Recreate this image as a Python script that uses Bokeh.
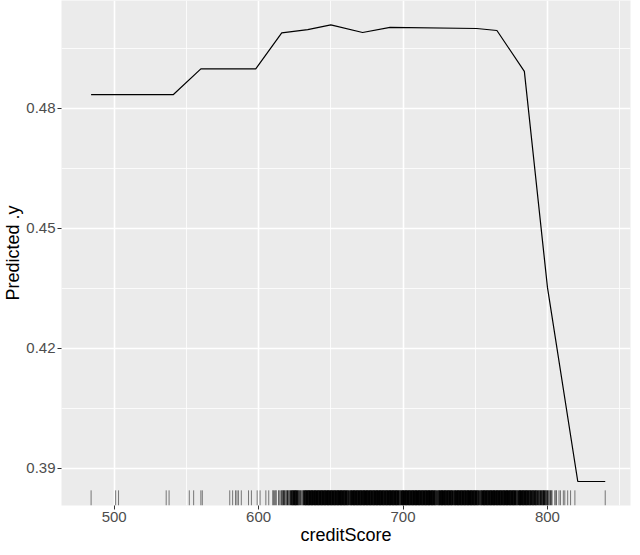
from bokeh.plotting import figure
from bokeh.models import Range1d, FixedTicker, ColumnDataSource, PrintfTickFormatter
from bokeh.embed import file_html
from bokeh.resources import INLINE

# ---- data ----
pd_x = [484, 541, 560, 598, 616, 634, 650, 672, 691, 751, 765, 784, 800, 821, 840]
pd_y = [0.4834, 0.4834, 0.4898, 0.4898, 0.4988, 0.4996, 0.5008, 0.4989, 0.5002,
        0.4999, 0.4994, 0.4892, 0.4352, 0.3867, 0.3867]

rug_values = [
    484, 501, 503, 536, 538, 552, 555, 560, 561, 580, 582, 584, 585, 586, 588,
    593, 595, 599, 601, 605, 607, 610, 611, 612, 614, 615, 616, 617, 618, 619,
    620, 621, 622,
    623, 624, 625, 626, 627, 628, 629, 630, 631, 632, 633, 634, 635, 636, 637,
    638, 639, 640, 641, 642, 643, 644, 645, 646, 647, 648, 649, 650, 651, 652,
    653, 654, 655, 656, 657, 658, 659, 660, 661, 662, 663, 664, 665, 666, 667,
    668, 669, 670, 671, 672, 673, 674, 675, 676, 677, 678, 679, 680, 681, 682,
    683, 684, 685, 686, 687, 688, 689, 690, 691, 692, 693, 694, 695, 696, 697,
    698, 699, 700, 701, 702, 703, 704, 705, 706, 707, 708, 709, 710, 711, 712,
    713, 714, 715, 716, 717, 718, 719, 720, 721, 722, 723, 724, 725, 726, 727,
    728, 729, 730, 731, 732, 733, 734, 735, 736, 737, 738, 739, 740, 741, 742,
    743, 744, 745, 746, 747, 748, 749, 750, 751, 752, 753, 754, 755, 756, 757,
    758, 759, 760, 761, 762, 763, 764, 765, 766, 767, 768, 769, 770, 771, 772,
    773, 774, 775, 776, 777, 778, 779, 780, 781, 782, 783, 784, 785, 786, 787,
    788, 789, 790, 791, 792, 793, 794, 795, 796, 797, 798, 799, 800,
    801, 802, 803, 805, 806, 808, 809, 811, 812, 814, 816, 819, 840,
]
rug_counts = [
    1, 1, 1, 1, 1, 1, 1, 1, 1, 1, 1, 1, 1, 1, 1,
    1, 1, 1, 1, 1, 1, 2, 1, 2, 2, 1, 2, 3, 2, 2,
    3, 2, 3,
    4, 5, 6, 5, 4, 3, 2, 2, 3, 5, 6, 6, 7, 6, 6,
    5, 6, 7, 6, 6, 7, 6, 6, 5, 6, 7, 6, 6, 7, 6,
    6, 5, 6, 7, 6, 6, 5, 6, 6, 4, 3, 5, 6, 7, 6,
    6, 7, 6, 6, 5, 6, 7, 6, 6, 7, 6, 5, 6, 7, 6,
    6, 6, 7, 6, 5, 6, 6, 7, 6, 6, 5, 6, 7, 6, 6,
    3, 6, 7, 6, 6, 7, 6, 5, 6, 7, 6, 6, 7, 6, 6,
    5, 6, 7, 6, 6, 7, 6, 6, 6, 5, 3, 3, 5, 6, 7,
    6, 6, 5, 6, 7, 6, 6, 3, 5, 6, 7, 6, 6, 7, 6,
    6, 5, 6, 7, 6, 6, 5, 6, 6, 4, 3, 4, 6, 7, 6,
    6, 5, 6, 7, 6, 6, 5, 6, 6, 7, 6, 5, 6, 7, 6,
    6, 5, 6, 6, 7, 6, 3, 5, 6, 6, 5, 6, 6, 5, 5,
    4, 5, 4, 5, 4, 4, 3, 4, 3, 4, 4, 3, 3,
    2, 2, 2, 1, 2, 1, 1, 1, 1, 1, 1, 1, 1,
]

x_ticks = [500, 600, 700, 800]
x_minor = [450, 550, 650, 750, 850]
y_ticks = [0.39, 0.42, 0.45, 0.48]
y_minor = [0.375, 0.405, 0.435, 0.465, 0.495]

x_label = "creditScore"
y_label = "Predicted .y"

# ---- figure ----
X_LO, X_HI = 463.5, 857.5
Y_LO, Y_HI = 0.3807, 0.5069

p = figure(width=632, height=547, output_backend="svg", toolbar_location=None,
           x_range=Range1d(X_LO, X_HI), y_range=Range1d(Y_LO, Y_HI),
           min_border_left=50, min_border_right=2, min_border_top=0,
           min_border_bottom=40)
p.background_fill_color = "#EBEBEB"
p.border_fill_color = "white"
p.outline_line_color = None

p.xaxis.ticker = FixedTicker(ticks=x_ticks, minor_ticks=x_minor)
p.yaxis.ticker = FixedTicker(ticks=y_ticks, minor_ticks=y_minor)
p.xaxis.formatter = PrintfTickFormatter(format="%d")
p.yaxis.formatter = PrintfTickFormatter(format="%.2f")

for ax in (p.xaxis, p.yaxis):
    ax.axis_line_color = None
    ax.minor_tick_line_color = None
    ax.major_tick_in = 0
    ax.major_tick_out = 4
    ax.major_tick_line_color = "#333333"
    ax.major_tick_line_width = 1
    ax.major_label_text_font = "Liberation Sans"
    ax.major_label_text_font_size = "15px"
    ax.major_label_text_color = "#4D4D4D"
    ax.major_label_standoff = 2
    ax.axis_label_text_font = "Liberation Sans"
    ax.axis_label_text_font_size = "18px"
    ax.axis_label_text_font_style = "normal"
    ax.axis_label_text_color = "black"
    ax.axis_label_standoff = 0
p.xaxis.axis_label = x_label
p.yaxis.axis_label = y_label

for g in (p.xgrid, p.ygrid):
    g.grid_line_color = "white"
    g.grid_line_width = 1.6
    g.minor_grid_line_color = "white"
    g.minor_grid_line_width = 0.8

# partial dependence line
p.line(x=pd_x, y=pd_y, line_color="black", line_width=1.2)

# rug (overlapping observations darken and thicken the tick)
rug_len = 0.03 * (Y_HI - Y_LO)
rug_alpha = [1 - 0.5 ** c for c in rug_counts]
rug_width = [min(1.0 + 0.25 * (c - 1), 2.0) for c in rug_counts]
rug_src = ColumnDataSource(dict(
    x=rug_values,
    y0=[Y_LO] * len(rug_values),
    y1=[Y_LO + rug_len] * len(rug_values),
    a=rug_alpha,
    w=rug_width,
))
p.segment(x0="x", y0="y0", x1="x", y1="y1", source=rug_src,
          line_color="black", line_alpha="a", line_width="w")

open("out.html", "w").write(file_html(p, INLINE))
